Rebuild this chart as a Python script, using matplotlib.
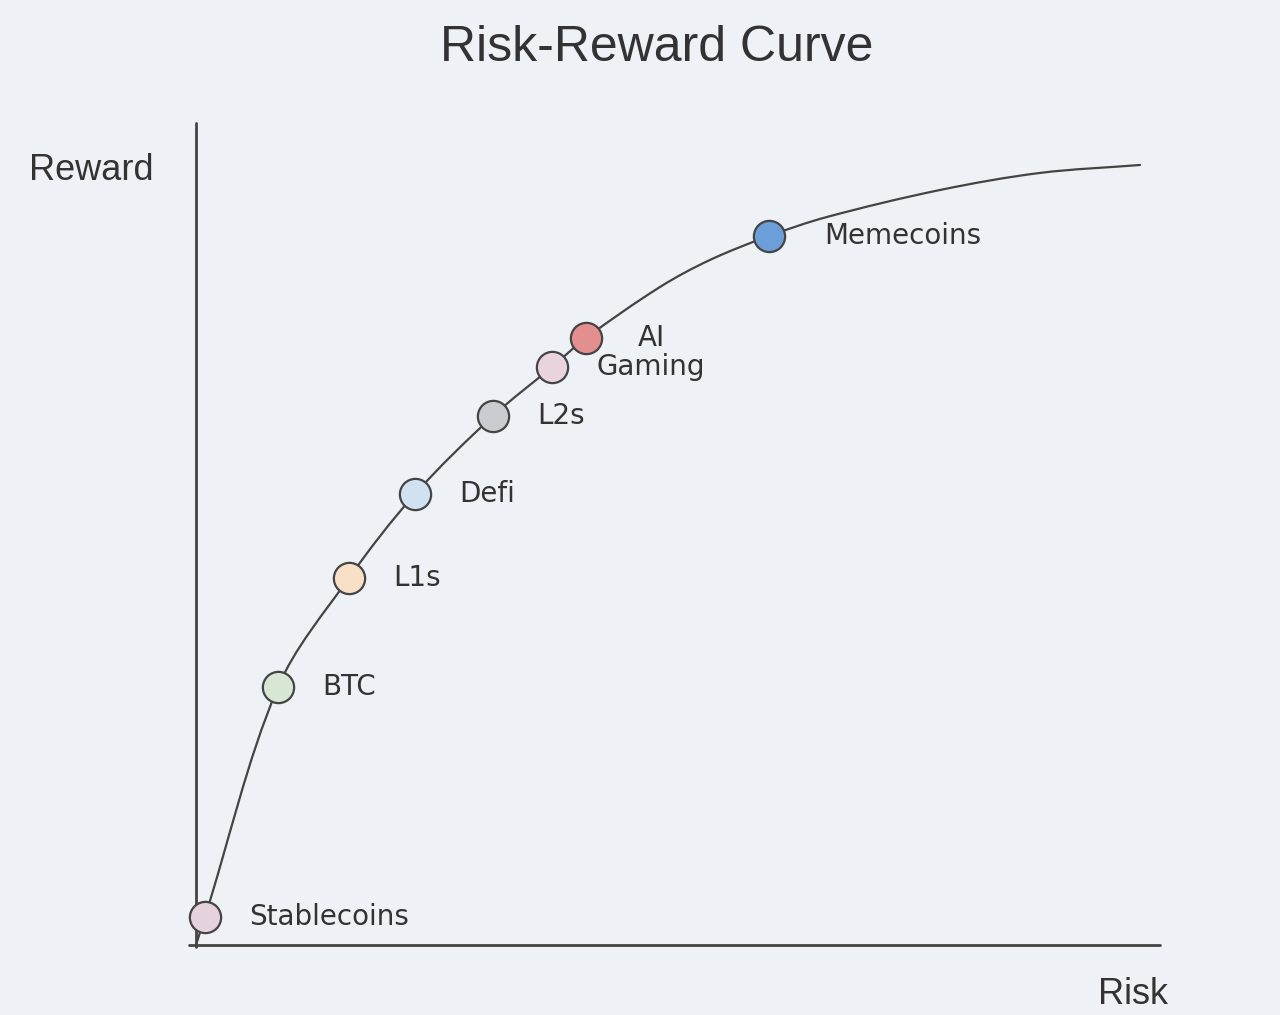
import matplotlib
matplotlib.use("Agg")
import math
import matplotlib.pyplot as plt
from matplotlib.path import Path
from matplotlib.patches import PathPatch

# ---- data (risk, reward) in arbitrary 0-10 units ----
categories = ["Stablecoins", "BTC", "L1s", "Defi", "L2s", "Gaming", "AI", "Memecoins"]
risk = [0.09, 0.85, 1.59, 2.27, 3.08, 3.69, 4.05, 5.94]
reward = [0.34, 3.15, 4.48, 5.50, 6.45, 7.05, 7.40, 8.65]
colors = ["#e6d2de", "#d8e7d3", "#f7e0c6", "#d0e2f2", "#c9ccd1", "#e9d3df", "#e38f90", "#6c9fd9"]

# curve
curve_risk = [0.0, 0.093, 0.851, 1.587, 2.272, 3.081,
              3.693, 4.046, 4.813, 5.332, 5.944, 6.546, 7.718, 8.755, 9.793]
curve_reward = [0.0, 0.341, 3.146, 4.476, 5.500, 6.451,
                7.049, 7.402, 8.024, 8.354, 8.646, 8.878, 9.207, 9.415, 9.512]

title = "Risk-Reward Curve"
xlabel = "Risk"
ylabel = "Reward"

# label offsets in points (layout only)
label_dx = {"AI": 37, "Memecoins": 40}

bg = "#eef1f5"
ink = "#444444"
text_col = "#333333"

fig = plt.figure(figsize=(12.8, 10.15), dpi=100)
fig.patch.set_facecolor(bg)
ax = fig.add_axes([0, 0, 1, 1])
ax.set_facecolor(bg)
ax.set_xlim(-2.033, 11.245)
ax.set_ylim(-0.854, 11.524)
ax.axis("off")

# hand-drawn style axes
ax.plot([0, 0], [-0.02, 10.02], color=ink, lw=2.0, solid_capstyle="round")
ax.plot([-0.07, 10.0], [0, 0], color=ink, lw=2.0, solid_capstyle="round")

# smooth curve: chord-length Catmull-Rom -> cubic Bezier through traced points
pts = list(zip(curve_risk, curve_reward))
n = len(pts)
t = [0.0]
for i in range(1, n):
    t.append(t[-1] + math.hypot(pts[i][0] - pts[i - 1][0], pts[i][1] - pts[i - 1][1]))
tang = []
for i in range(n):
    a = max(i - 1, 0)
    b = min(i + 1, n - 1)
    dt = t[b] - t[a]
    tang.append(((pts[b][0] - pts[a][0]) / dt, (pts[b][1] - pts[a][1]) / dt))
verts = [pts[0]]
codes = [Path.MOVETO]
for i in range(n - 1):
    h = (t[i + 1] - t[i]) / 3.0
    c1 = (pts[i][0] + tang[i][0] * h, pts[i][1] + tang[i][1] * h)
    c2 = (pts[i + 1][0] - tang[i + 1][0] * h, pts[i + 1][1] - tang[i + 1][1] * h)
    verts += [c1, c2, pts[i + 1]]
    codes += [Path.CURVE4] * 3
ax.add_patch(PathPatch(Path(verts, codes), facecolor="none", edgecolor=ink, lw=1.6,
                       capstyle="round", zorder=2))

# points
for c, x, y, col in zip(categories, risk, reward, colors):
    ax.plot(x, y, "o", ms=22.5, mfc=col, mec=ink, mew=1.6, zorder=3)
    ax.annotate(c, (x, y), xytext=(label_dx.get(c, 32), 0), textcoords="offset points",
                ha="left", va="center", fontsize=20, color=text_col,
                family=["DejaVu Sans"], zorder=4)

fig.text(657 / 1280, 1 - 61 / 1015, title, ha="center", va="baseline",
         fontsize=36, color=text_col, family=["Liberation Sans", "DejaVu Sans"])
ax.text(-1.09, 9.44, ylabel, ha="center", va="center", fontsize=26,
        color=text_col, family=["Liberation Sans", "DejaVu Sans"])
ax.text(9.72, -0.61, xlabel, ha="center", va="center", fontsize=26,
        color=text_col, family=["Liberation Sans", "DejaVu Sans"])

fig.savefig("out.png", dpi=100, facecolor=bg)
